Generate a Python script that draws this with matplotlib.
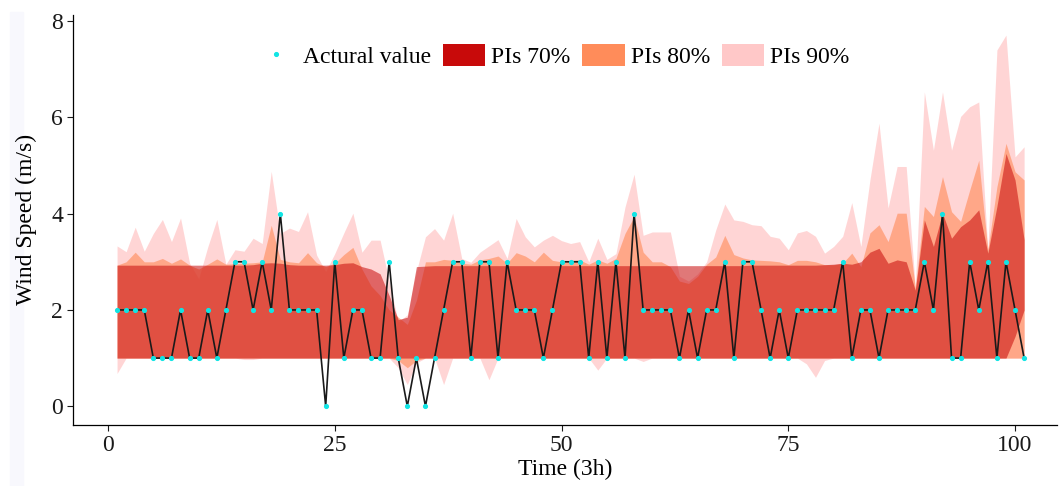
import matplotlib
matplotlib.use("Agg")
import matplotlib.pyplot as plt
from matplotlib.lines import Line2D
from matplotlib.patches import Patch, Rectangle

plt.rcParams['font.family'] = ['Liberation Serif', 'DejaVu Serif']

# time step index (3h)
time = list(range(1, 102))

actual = [2, 2, 2, 2, 1, 1, 1, 2, 1, 1,
          2, 1, 2, 3, 3, 2, 3, 2, 4, 2,
          2, 2, 2, 0, 3, 1, 2, 2, 1, 1,
          3, 1, 0, 1, 0, 1, 2, 3, 3, 1,
          3, 3, 1, 3, 2, 2, 2, 1, 2, 3,
          3, 3, 1, 3, 1, 3, 1, 4, 2, 2,
          2, 2, 1, 2, 1, 2, 2, 3, 1, 3,
          3, 2, 1, 2, 1, 2, 2, 2, 2, 2,
          3, 1, 2, 2, 1, 2, 2, 2, 2, 3,
          2, 4, 1, 1, 3, 2, 3, 1, 3, 2,
          1]

up70 = [2.93, 2.93, 2.93, 2.93, 2.93, 2.93, 2.93, 2.93, 2.93, 2.93,
        2.93, 2.93, 2.93, 2.93, 2.93, 2.94, 2.97, 2.98, 2.97, 2.94,
        2.93, 2.93, 2.93, 2.93, 2.94, 2.97, 2.98, 2.90, 2.85, 2.75,
        2.30, 1.80, 1.85, 2.90, 2.91, 2.92, 2.92, 2.92, 2.92, 2.92,
        2.92, 2.92, 2.92, 2.92, 2.92, 2.92, 2.92, 2.92, 2.92, 2.92,
        2.92, 2.92, 2.92, 2.92, 2.92, 2.92, 2.92, 2.92, 2.92, 2.92,
        2.92, 2.92, 2.92, 2.92, 2.92, 2.92, 2.92, 2.92, 2.92, 2.92,
        2.93, 2.93, 2.93, 2.93, 2.93, 2.93, 2.93, 2.93, 2.94, 2.95,
        2.97, 2.95, 3.00, 3.20, 3.28, 2.97, 3.04, 3.00, 2.41, 3.87,
        3.32, 4.01, 3.49, 3.73, 3.87, 4.08, 3.18, 4.15, 5.25, 4.70,
        3.46]
lo70 = [1.0] * 99 + [1.45, 2.0]

up80 = [2.93, 3.00, 3.20, 3.00, 3.00, 3.07, 2.97, 3.06, 2.93, 2.85,
        2.95, 3.06, 2.95, 2.96, 2.97, 2.98, 3.00, 3.76, 3.05, 3.00,
        2.98, 3.19, 2.98, 2.90, 2.97, 3.15, 3.30, 2.85, 2.50, 2.30,
        2.00, 1.85, 1.70, 2.20, 3.00, 3.00, 3.05, 3.03, 2.97, 2.95,
        3.04, 3.07, 3.12, 2.97, 3.19, 3.12, 3.00, 3.20, 3.03, 3.00,
        3.03, 3.04, 2.95, 3.04, 2.97, 3.07, 3.59, 3.94, 3.20, 3.00,
        3.00, 2.90, 2.60, 2.55, 2.70, 2.95, 3.10, 3.55, 3.15, 3.08,
        3.04, 3.03, 3.02, 3.00, 2.94, 3.03, 3.03, 3.00, 2.94, 2.94,
        2.97, 3.18, 2.90, 3.60, 3.77, 3.42, 4.01, 4.01, 2.45, 4.15,
        3.94, 4.77, 4.04, 3.84, 4.49, 5.11, 3.25, 4.56, 5.46, 4.87,
        4.70]
lo80 = [1.0] * 31 + [0.95, 0.80, 0.95] + [1.0] * 67

up90 = [3.33, 3.21, 3.72, 3.22, 3.59, 3.88, 3.42, 3.91, 2.97, 2.65,
        3.31, 3.88, 2.95, 3.25, 3.22, 3.49, 3.38, 4.88, 3.59, 3.70,
        3.63, 4.04, 3.14, 2.80, 3.17, 3.60, 4.01, 3.20, 3.45, 3.45,
        2.60, 1.75, 1.90, 2.80, 3.52, 3.69, 3.45, 4.01, 3.07, 2.99,
        3.20, 3.33, 3.46, 3.07, 3.90, 3.52, 3.31, 3.45, 3.55, 3.44,
        3.38, 3.42, 3.00, 3.49, 3.05, 3.17, 4.14, 4.82, 3.55, 3.62,
        3.62, 3.62, 2.70, 2.60, 2.75, 3.00, 3.66, 4.20, 3.87, 3.84,
        3.77, 3.75, 3.53, 3.49, 3.25, 3.60, 3.65, 3.53, 3.18, 3.32,
        3.53, 4.23, 3.32, 4.70, 5.88, 4.12, 4.98, 4.98, 2.48, 6.53,
        5.32, 6.53, 5.32, 6.02, 6.22, 6.32, 3.25, 7.40, 7.71, 5.18,
        5.39]
lo90 = [0.68, 1.0, 1.0, 1.0, 1.0, 1.0, 1.0, 1.0, 1.0, 1.0,
        1.0, 1.0, 1.0, 1.0, 0.97, 0.97, 1.0, 1.0, 1.0, 1.0,
        1.0, 1.0, 1.0, 1.0, 1.0, 1.0, 1.0, 1.0, 1.0, 1.0,
        1.0, 0.80, 0.45, 0.90, 1.0, 1.0, 0.45, 1.0, 1.0, 1.0,
        1.0, 0.55, 1.0, 1.0, 1.0, 1.0, 1.0, 1.0, 1.0, 1.0,
        1.0, 1.0, 1.0, 0.75, 1.0, 1.0, 1.0, 1.0, 0.93, 1.0,
        1.0, 1.0, 1.0, 1.0, 1.0, 1.0, 1.0, 1.0, 1.0, 1.0,
        1.0, 1.0, 1.0, 1.0, 1.0, 1.0, 0.88, 0.60, 0.95, 1.0,
        1.0, 1.0, 1.0, 1.0, 1.0, 1.0, 1.0, 1.0, 1.0, 1.0,
        1.0, 1.0, 1.0, 1.0, 1.0, 1.0, 1.0, 1.0, 1.0, 1.0,
        1.0]

col70 = '#C80A0A'
col80 = '#FF8C5A'
col90 = '#FFC8C8'
col_pt = '#12E4E4'

fig = plt.figure(figsize=(10.59, 4.86), dpi=100)
# faint strip at the left edge of the original image
fig.patches.append(Rectangle((10 / 1059, 0), 13 / 1059, 474 / 486,
                             transform=fig.transFigure, color='#F8F8FD', zorder=-5))
ax = fig.add_axes([0.0689, 0.1255, 0.929, 0.844])
ax.set_facecolor('none')

ax.fill_between(time, lo90, up90, color=col90, alpha=0.75, lw=0)
ax.fill_between(time, lo80, up80, color=col80, alpha=0.62, lw=0)
ax.fill_between(time, lo70, up70, color=col70, alpha=0.55, lw=0)
ax.plot(time, actual, color='#1a1a1a', lw=1.2, zorder=3)
ax.plot(time, actual, ls='', marker='o', ms=2.7, color=col_pt, zorder=4)

ax.set_xlim(-3.86, 104.6)
ax.set_ylim(-0.39, 8.13)
ax.set_xticks([0, 25, 50, 75, 100])
ax.set_yticks([0, 2, 4, 6, 8])
for s in ['top', 'right']:
    ax.spines[s].set_visible(False)
for s in ['left', 'bottom']:
    ax.spines[s].set_linewidth(0.9)
ax.tick_params(labelsize=17, length=4, width=0.8, colors='#1a1a1a', pad=3)

ax.set_xlabel('Time (3h)', fontsize=17, labelpad=2)
ax.set_ylabel('Wind Speed (m/s)', fontsize=17, labelpad=10)

handles = [Line2D([], [], ls='', marker='o', ms=2.7, color=col_pt),
           Patch(facecolor=col70), Patch(facecolor=col80), Patch(facecolor=col90)]
labels = ['Actural value', 'PIs 70%', 'PIs 80%', 'PIs 90%']
ax.legend(handles, labels, loc='center', bbox_to_anchor=(0.487, 0.899), ncol=4,
          frameon=False, fontsize=17, handlelength=1.8, handleheight=1.0,
          handletextpad=0.25, columnspacing=0.5, borderpad=0)

fig.savefig('out.png', dpi=100)
